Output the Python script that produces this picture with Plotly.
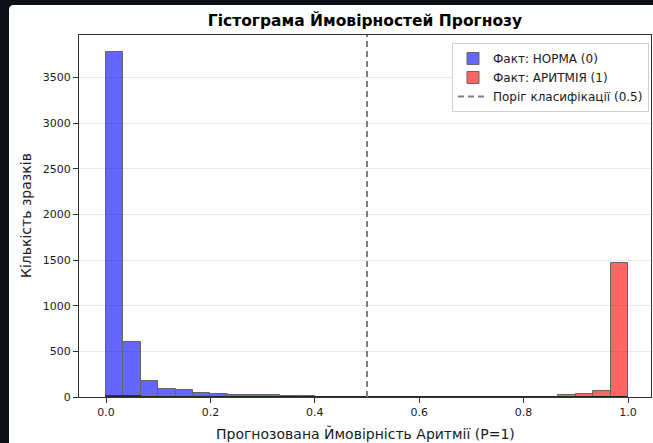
import numpy as np
import plotly.graph_objects as go

# Histogram bin edges: 30 equal bins on [0, 1]
n_bins = 30
bin_edges = np.linspace(0.0, 1.0, n_bins + 1)
bin_centers = (bin_edges[:-1] + bin_edges[1:]) / 2
bin_width = bin_edges[1] - bin_edges[0]

# Sample counts per bin for each true class
counts_norm = [3775, 600, 170, 92, 80, 45, 35, 25, 20, 18,
               9, 7, 5, 3, 2, 2, 1, 1, 0, 0,
               0, 0, 0, 0, 0, 0, 0, 0, 0, 0]
counts_arrhythmia = [14, 6, 3, 2, 1, 0, 0, 0, 0, 0,
                     0, 1, 0, 1, 0, 2, 1, 0, 0, 1,
                     4, 1, 5, 1, 5, 2, 18, 38, 65, 1465]

threshold = 0.5
x_ticks = [0.0, 0.2, 0.4, 0.6, 0.8, 1.0]
y_ticks = [0, 500, 1000, 1500, 2000, 2500, 3000, 3500]

title_text = "Гістограма Ймовірностей Прогнозу"
x_label = "Прогнозована Ймовірність Аритмії (P=1)"
y_label = "Кількість зразків"
name_norm = "Факт: НОРМА (0)"
name_arr = "Факт: АРИТМІЯ (1)"
name_thr = "Поріг класифікації (0.5)"

W, H = 653, 443
ML, MR, MT, MB = 79, 2, 35, 46
PW, PH = W - ML - MR, H - MT - MB
PX_PER_UNIT = 522


def px_x(px):
    return (px - ML) / PW


def px_y(py):
    return (H - MB - py) / PH


FONT = "DejaVu Sans"
TXT = "#1a1a1a"

fig = go.Figure()
fig.add_trace(go.Bar(
    x=bin_centers, y=counts_norm, width=bin_width, name=name_norm,
    marker=dict(color="blue", line=dict(color="black", width=1)),
    opacity=0.6,
))
fig.add_trace(go.Bar(
    x=bin_centers, y=counts_arrhythmia, width=bin_width, name=name_arr,
    marker=dict(color="red", line=dict(color="black", width=1)),
    opacity=0.6,
))

# Threshold line spanning the whole axes height
fig.add_shape(
    type="line", xref="x", yref="paper", x0=threshold, x1=threshold, y0=0, y1=1,
    line=dict(color="#808080", width=2, dash="6px,4px"),
    showlegend=True, name=name_thr, layer="above",
)

# Dark outer frame (left and top strips with a rounded inner corner)
r = 5
fx, fy = 9, 5
frame_path = (
    f"M {px_x(0)},{px_y(0)} L {px_x(W)},{px_y(0)} L {px_x(W)},{px_y(fy)} "
    f"L {px_x(fx + r)},{px_y(fy)} Q {px_x(fx)},{px_y(fy)} {px_x(fx)},{px_y(fy + r)} "
    f"L {px_x(fx)},{px_y(H)} L {px_x(0)},{px_y(H)} Z"
)
fig.add_shape(type="path", xref="paper", yref="paper", path=frame_path,
              fillcolor="#0d1117", line=dict(width=0), layer="above")

x_min = -27 / PX_PER_UNIT
x_max = x_min + PW / PX_PER_UNIT
y_max = max(max(counts_norm), max(counts_arrhythmia)) * 1.05

fig.update_layout(
    width=W, height=H,
    margin=dict(l=ML, r=MR, t=MT, b=MB),
    paper_bgcolor="white", plot_bgcolor="white",
    barmode="overlay", bargap=0,
    font=dict(family=FONT, size=11, color=TXT),
    title=dict(text=f"<b>{title_text}</b>", x=0.5, xref="paper",
               y=1 - 21 / H, yref="container", yanchor="middle", xanchor="center",
               font=dict(family=FONT, size=15.5, color="black")),
    showlegend=True,
    legend=dict(x=px_x(649), y=px_y(43), xanchor="right", yanchor="top",
                bgcolor="rgba(255,255,255,0.8)", bordercolor="#d0d0d0", borderwidth=1,
                font=dict(family=FONT, size=12, color=TXT),
                itemwidth=30, tracegroupgap=0),
    xaxis=dict(range=[x_min, x_max], tickvals=x_ticks, tickformat=".1f",
               showgrid=False, zeroline=False,
               showline=True, linecolor="#333333", linewidth=1, mirror=True,
               ticks="outside", ticklen=5, tickcolor="#333333",
               tickfont=dict(family=FONT, size=11, color=TXT)),
    yaxis=dict(range=[0, y_max], tickvals=y_ticks,
               showgrid=True, gridcolor="#e8e8e8", gridwidth=1, zeroline=False,
               showline=True, linecolor="#333333", linewidth=1, mirror=True,
               ticks="outside", ticklen=5, tickcolor="#333333",
               tickfont=dict(family=FONT, size=11, color=TXT)),
    annotations=[
        dict(text=x_label, xref="paper", yref="paper", x=0.5, y=px_y(433),
             xanchor="center", yanchor="middle", showarrow=False,
             font=dict(family=FONT, size=14, color=TXT)),
        dict(text=y_label, xref="paper", yref="paper", x=px_x(26), y=0.5,
             xanchor="center", yanchor="middle", showarrow=False, textangle=-90,
             font=dict(family=FONT, size=14, color=TXT)),
    ],
)

fig.write_html("out.html")
